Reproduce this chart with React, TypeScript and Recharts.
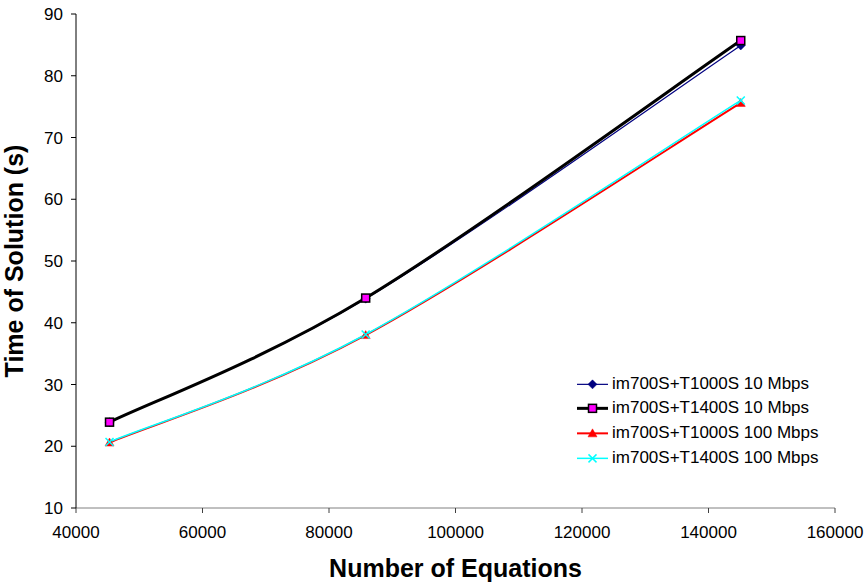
import React from 'react';
import { LineChart, Line, XAxis, YAxis } from 'recharts';

const equations = [45300, 85800, 145100];
const t1000s10 = [23.9, 43.9, 84.9];
const t1400s10 = [23.9, 44.0, 85.7];
const t1000s100 = [20.6, 38.0, 75.6];
const t1400s100 = [20.7, 38.1, 76.0];
const xTicks = [40000, 60000, 80000, 100000, 120000, 140000, 160000];
const yTicks = [10, 20, 30, 40, 50, 60, 70, 80, 90];
const seriesNames = [
  'im700S+T1000S 10 Mbps',
  'im700S+T1400S 10 Mbps',
  'im700S+T1000S 100 Mbps',
  'im700S+T1400S 100 Mbps',
];

const data = equations.map((x, i) => ({
  x,
  a: t1000s10[i],
  b: t1400s10[i],
  c: t1000s100[i],
  d: t1400s100[i],
}));

const FONT = '"Liberation Sans", Arial, sans-serif';

// Spreadsheet-style smoothed line (Catmull-Rom Bezier, ends duplicated)
const smoothCurve: any = (context: any) => {
  let pts: number[][] = [];
  return {
    areaStart() {},
    areaEnd() {},
    lineStart() {
      pts = [];
    },
    point(x: number, y: number) {
      pts.push([+x, +y]);
    },
    lineEnd() {
      const n = pts.length;
      if (!n) return;
      context.moveTo(pts[0][0], pts[0][1]);
      for (let i = 0; i < n - 1; i++) {
        const p0 = pts[Math.max(i - 1, 0)];
        const p1 = pts[i];
        const p2 = pts[i + 1];
        const p3 = pts[Math.min(i + 2, n - 1)];
        context.bezierCurveTo(
          p1[0] + (p2[0] - p0[0]) / 6,
          p1[1] + (p2[1] - p0[1]) / 6,
          p2[0] - (p3[0] - p1[0]) / 6,
          p2[1] - (p3[1] - p1[1]) / 6,
          p2[0],
          p2[1]
        );
      }
    },
  };
};

const Diamond = ({ cx, cy }: any) => (
  <polygon points={`${cx},${cy - 4.5} ${cx + 4.5},${cy} ${cx},${cy + 4.5} ${cx - 4.5},${cy}`} fill="#000080" stroke="#000080" strokeWidth={0.5} />
);
const Square = ({ cx, cy }: any) => (
  <rect x={cx - 4} y={cy - 4} width={8} height={8} fill="#ff00ff" stroke="#000000" strokeWidth={1.5} />
);
const Triangle = ({ cx, cy }: any) => (
  <polygon points={`${cx},${cy - 4.5} ${cx + 4.5},${cy + 3.5} ${cx - 4.5},${cy + 3.5}`} fill="#ff0000" stroke="#ff0000" strokeWidth={0.5} />
);
const Cross = ({ cx, cy }: any) => (
  <g stroke="#00ffff" strokeWidth={1.5}>
    <line x1={cx - 4} y1={cy - 4} x2={cx + 4} y2={cy + 4} />
    <line x1={cx - 4} y1={cy + 4} x2={cx + 4} y2={cy - 4} />
  </g>
);

const markers = [Diamond, Square, Triangle, Cross];
const colors = ['#000080', '#000000', '#ff0000', '#00ffff'];
const widths = [1.2, 3, 2, 1.5];

const mkDot = (M: any) => (props: any) => <M key={`dot-${props.index}`} cx={props.cx} cy={props.cy} />;

const LegendBox = () => (
  <div style={{ position: 'absolute', left: 577, top: 371.6, fontFamily: FONT, fontSize: 17, color: '#000' }}>
    {seriesNames.map((n, i) => {
      const M = markers[i];
      return (
        <div key={n} style={{ display: 'flex', alignItems: 'center', height: 24.7 }}>
          <svg width={35} height={24.7} style={{ display: 'block' }}>
            <line x1={0} y1={12.35} x2={31} y2={12.35} stroke={colors[i]} strokeWidth={widths[i]} />
            <M cx={15.5} cy={12.35} />
          </svg>
          <span style={{ whiteSpace: 'nowrap', lineHeight: '24.7px' }}>{n}</span>
        </div>
      );
    })}
  </div>
);

export default function App() {
  return (
    <div style={{ position: 'absolute', left: 0, top: 0, width: 866, height: 584, background: '#fff' }}>
      <LineChart width={866} height={584} data={data} margin={{ top: 14, right: 31, bottom: 0, left: 0 }}>
        <XAxis
          dataKey="x"
          type="number"
          domain={[40000, 160000]}
          ticks={xTicks}
          allowDataOverflow
          height={76}
          tickSize={5}
          tickMargin={13}
          stroke="#808080"
          tick={{ fill: '#000', fontSize: 17, fontFamily: FONT }}
          tickLine={{ stroke: '#404040' }}
          label={{
            content: () => (
              <text x={455.5} y={577} textAnchor="middle" fontFamily={FONT} fontSize={25} fontWeight="bold" fill="#000">
                Number of Equations
              </text>
            ),
          }}
        />
        <YAxis
          type="number"
          domain={[10, 90]}
          ticks={yTicks}
          allowDataOverflow
          width={76}
          tickSize={5}
          tickMargin={8}
          stroke="#000"
          tick={{ fill: '#000', fontSize: 17, fontFamily: FONT }}
          label={{
            content: () => (
              <text x={23} y={261} transform="rotate(-90 23 261)" textAnchor="middle" fontFamily={FONT} fontSize={25} fontWeight="bold" fill="#000">
                Time of Solution (s)
              </text>
            ),
          }}
        />
        <Line type={smoothCurve} dataKey="a" stroke={colors[0]} strokeWidth={widths[0]} dot={mkDot(Diamond)} activeDot={false} isAnimationActive={false} />
        <Line type={smoothCurve} dataKey="b" stroke={colors[1]} strokeWidth={widths[1]} dot={mkDot(Square)} activeDot={false} isAnimationActive={false} />
        <Line type={smoothCurve} dataKey="c" stroke={colors[2]} strokeWidth={widths[2]} dot={mkDot(Triangle)} activeDot={false} isAnimationActive={false} />
        <Line type={smoothCurve} dataKey="d" stroke={colors[3]} strokeWidth={widths[3]} dot={mkDot(Cross)} activeDot={false} isAnimationActive={false} />
      </LineChart>
      <LegendBox />
    </div>
  );
}
